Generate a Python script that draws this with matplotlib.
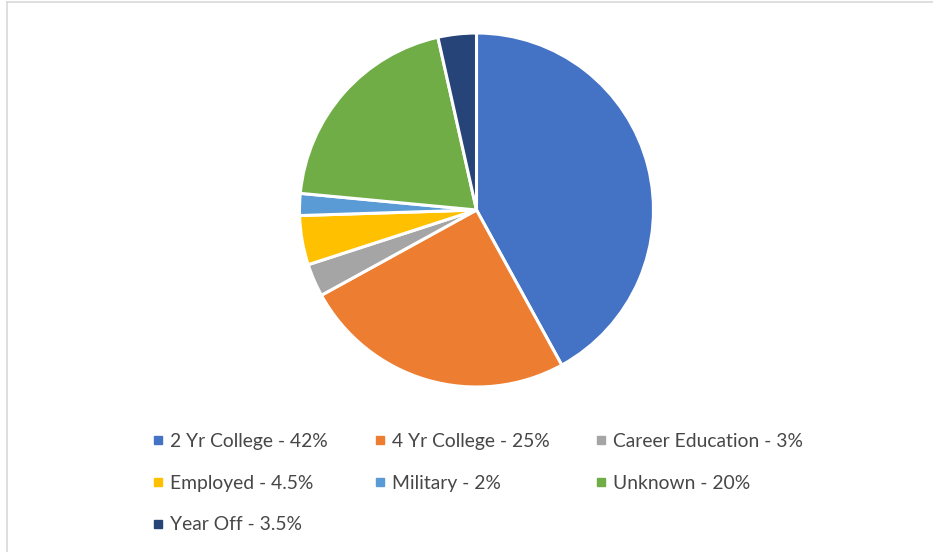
import matplotlib
matplotlib.use("Agg")
import matplotlib.pyplot as plt
from matplotlib.lines import Line2D

categories = ["2 Yr College - 42%", "4 Yr College - 25%", "Career Education - 3%",
              "Employed - 4.5%", "Military - 2%", "Unknown - 20%", "Year Off - 3.5%"]
values = [42, 25, 3, 4.5, 2, 20, 3.5]
colors = ["#4472C4", "#ED7D31", "#A5A5A5", "#FFC000", "#5B9BD5", "#70AD47", "#264478"]

W, H = 933, 552
fig = plt.figure(figsize=(W / 100, H / 100), dpi=100)
fig.patch.set_facecolor("white")

cx, cy, r = 476.5, 210, 177
ax = fig.add_axes([(cx - r) / W, 1 - (cy + r) / H, 2 * r / W, 2 * r / H])
ax.pie(values, colors=colors, startangle=90, counterclock=False,
       wedgeprops=dict(edgecolor="white", linewidth=2.2))
ax.set_xlim(-1, 1)
ax.set_ylim(-1, 1)
ax.set_aspect("equal")
ax.axis("off")

# border (left and top visible)
fig.add_artist(Line2D([7.5 / W, 7.5 / W], [0, 1 - 2 / H], transform=fig.transFigure,
                      color="#d9d9d9", linewidth=1.2))
fig.add_artist(Line2D([7.5 / W, 1], [1 - 2 / H, 1 - 2 / H], transform=fig.transFigure,
                      color="#d9d9d9", linewidth=1.2))

# legend laid out row-major in 3 columns
col_x = [158, 379.5, 601]
row_y = [440, 482, 523.5]
for i, (lab, c) in enumerate(zip(categories, colors)):
    col, row = i % 3, i // 3
    mx, my = col_x[col], row_y[row]
    fig.add_artist(Line2D([mx / W], [1 - my / H], transform=fig.transFigure,
                          marker="s", markersize=5.3, linestyle="none",
                          markerfacecolor=c, markeredgecolor=c))
    fig.text((mx + 12) / W, 1 - my / H, lab, family="Lato", size=13.9,
             color="#474747", ha="left", va="center_baseline")

fig.savefig("out.png", dpi=100, facecolor="white")
